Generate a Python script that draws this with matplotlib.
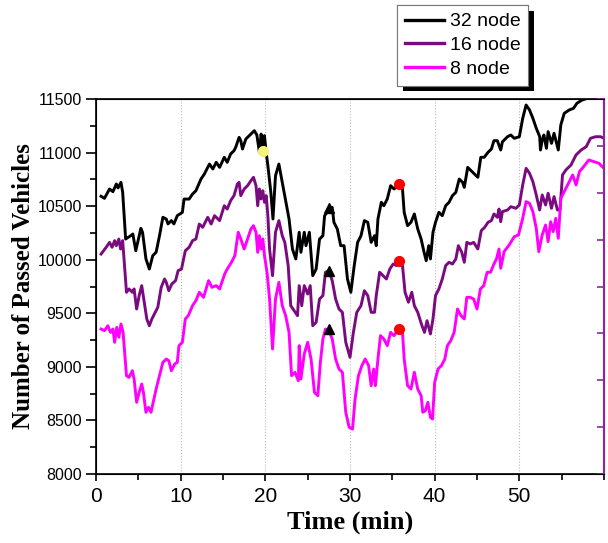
import numpy as np
import matplotlib.pyplot as plt
import matplotlib.patheffects as pe
from matplotlib.ticker import MultipleLocator

# Число прошедших машин во времени для разного числа узлов
t_32 = [0.6, 1.0, 1.6, 2.0, 2.4, 2.6, 2.95, 3.15, 3.5, 4.1, 4.35, 4.7, 5.3, 5.5, 5.9, 6.3, 6.7, 7.1,
        7.5, 7.9, 8.3, 8.5, 8.9, 9.2, 9.6, 10.2, 10.4, 11.0, 11.4, 11.8, 12.4, 12.8, 13.4, 13.8, 14.2,
        14.6, 15.15, 15.5, 15.9, 16.3, 16.5, 16.7, 16.9, 17.1, 17.3, 17.7, 18.3, 18.7, 19.0, 19.3,
        19.5, 19.7, 19.9, 20.1, 20.3, 20.65, 20.9, 21.2, 21.6, 22.0, 22.3, 22.8, 23.2, 23.6, 24.0,
        24.2, 24.6, 24.8, 25.2, 25.6, 26.0, 26.4, 26.8, 27.0, 27.3, 27.9, 28.1, 28.5, 28.9, 29.3,
        29.7, 30.1, 30.5, 30.9, 31.3, 31.7, 32.1, 32.5, 32.9, 33.1, 33.3, 33.7, 34.0, 34.4, 34.8,
        35.2, 35.8, 36.2, 36.4, 36.8, 37.2, 37.6, 38.0, 38.4, 38.75, 39.0, 39.3, 39.5, 39.8, 40.1,
        40.5, 40.9, 41.3, 41.7, 42.1, 42.5, 42.9, 43.3, 43.5, 43.9, 44.3, 44.7, 45.1, 45.45, 45.85,
        46.3, 46.7, 47.0, 47.4, 47.8, 48.0, 48.6, 49.0, 49.4, 50.0, 50.4, 50.8, 51.2, 51.6, 52.0,
        52.4, 52.5, 52.7, 52.9, 53.2, 53.4, 53.8, 54.1, 54.6, 54.9, 55.3, 55.9, 56.4, 56.8, 57.4,
        58.0, 58.8, 59.5, 60.0]
n_32 = [10592, 10573, 10660, 10635, 10707, 10670, 10722, 10630, 10193, 10224, 10240, 10084, 10293,
        10255, 10007, 9913, 10037, 10070, 10224, 10396, 10380, 10334, 10365, 10334, 10411, 10442,
        10566, 10566, 10613, 10644, 10753, 10800, 10893, 10847, 10909, 10862, 10956, 10909, 10987,
        11018, 11049, 11096, 11142, 11111, 11033, 11127, 11173, 11204, 11164, 11002, 11173, 11064,
        11158, 11002, 10878, 10629, 10380, 10784, 10893, 10722, 10598, 10380, 10100, 10007, 10256,
        10069, 10256, 10131, 10256, 9851, 9913, 10193, 10224, 10411, 10442, 10489, 10349, 10287,
        10131, 10131, 9820, 9696, 9945, 10162, 10224, 10365, 10349, 10162, 10224, 10131, 10380,
        10536, 10504, 10567, 10691, 10660, 10707, 10660, 10442, 10318, 10349, 10427, 10287, 10193,
        10069, 9991, 10131, 10007, 10256, 10349, 10442, 10411, 10504, 10536, 10598, 10629, 10753,
        10722, 10675, 10862, 10831, 10800, 10769, 10956, 10956, 11002, 11033, 11111, 11111, 11024,
        11100, 11148, 11164, 11133, 11148, 11320, 11444, 11398, 11320, 11227, 11150, 11024, 11118,
        11164, 11040, 11195, 11086, 11180, 11024, 11258, 11366, 11398, 11413, 11460, 11490, 11505,
        11530, 11550, 11570]

t_16 = [0.6, 1.2, 1.6, 1.9, 2.2, 2.4, 2.7, 2.9, 3.15, 3.6, 3.9, 4.3, 4.5, 4.8, 5.1, 5.4, 5.7, 6.0,
        6.3, 6.6, 7.0, 7.3, 7.7, 8.1, 8.3, 8.6, 8.95, 9.4, 9.7, 10.1, 10.55, 11.0, 11.4, 11.8, 12.2,
        12.6, 13.2, 13.6, 14.0, 14.6, 15.15, 15.5, 15.9, 16.3, 16.7, 16.9, 17.1, 17.5, 17.9, 18.3,
        18.6, 18.9, 19.1, 19.3, 19.5, 19.7, 19.9, 20.1, 20.3, 20.5, 20.85, 21.2, 21.6, 22.0, 22.3,
        22.7, 23.0, 23.4, 23.8, 24.0, 24.3, 24.6, 25.0, 25.3, 25.6, 26.0, 26.4, 26.8, 27.1, 27.5,
        27.9, 28.3, 28.7, 29.1, 29.5, 30.0, 30.4, 30.8, 31.3, 31.7, 32.1, 32.5, 32.9, 33.1, 33.5,
        33.9, 34.3, 34.7, 35.1, 35.5, 35.8, 36.2, 36.5, 36.9, 37.3, 37.6, 38.0, 38.5, 38.8, 39.1,
        39.5, 39.8, 40.1, 40.5, 40.9, 41.3, 41.7, 42.1, 42.5, 42.8, 43.2, 43.5, 43.8, 44.2, 44.6,
        45.1, 45.5, 45.9, 46.3, 46.7, 47.0, 47.4, 47.6, 47.8, 48.0, 48.6, 49.0, 49.6, 50.0, 50.4,
        50.8, 51.2, 51.6, 52.0, 52.4, 52.7, 53.1, 53.4, 53.8, 54.1, 54.5, 54.8, 55.1, 55.5, 56.1,
        56.7, 57.3, 57.9, 58.4, 59.0, 59.6, 60.0]
n_16 = [10053, 10116, 10162, 10116, 10178, 10131, 10193, 10100, 10178, 9696, 9727, 9696, 9727, 9540,
        9665, 9758, 9603, 9447, 9384, 9447, 9509, 9556, 9742, 9820, 9789, 9711, 9773, 9805, 9898,
        9913, 10084, 10116, 10178, 10193, 10333, 10302, 10396, 10333, 10411, 10365, 10504, 10473,
        10551, 10598, 10707, 10722, 10598, 10660, 10691, 10738, 10769, 10691, 10504, 10660, 10567,
        10644, 10536, 10598, 10411, 10100, 9851, 10256, 10365, 10224, 10162, 9945, 9571, 9524, 9478,
        9758, 9571, 9758, 9680, 9758, 9384, 9416, 9633, 9665, 9883, 9898, 9805, 9633, 9540, 9509,
        9229, 9089, 9322, 9509, 9571, 9711, 9665, 9509, 9509, 9665, 9883, 9851, 9820, 9913, 9960,
        9945, 9991, 9945, 9696, 9603, 9696, 9571, 9509, 9384, 9322, 9431, 9307, 9447, 9665, 9727,
        9820, 9945, 9976, 9960, 10007, 10131, 10069, 9976, 10162, 10147, 10162, 10100, 10271,
        10302, 10349, 10365, 10427, 10396, 10473, 10355, 10449, 10464, 10495, 10480, 10511, 10698,
        10853, 10807, 10729, 10604, 10464, 10604, 10511, 10620, 10480, 10589, 10464, 10464, 10791,
        10838, 10884, 10978, 11024, 11055, 11133, 11148, 11148, 11133]

t_8 = [0.6, 1.0, 1.4, 1.7, 2.0, 2.2, 2.45, 2.7, 2.95, 3.2, 3.6, 3.9, 4.3, 4.5, 4.8, 5.1, 5.4, 5.6,
       5.9, 6.2, 6.5, 6.8, 7.1, 7.5, 7.9, 8.3, 8.6, 8.9, 9.3, 9.6, 9.8, 10.2, 10.55, 10.9, 11.4,
       11.8, 12.2, 12.7, 13.3, 13.7, 14.2, 14.6, 15.2, 15.5, 16.0, 16.4, 16.8, 17.1, 17.5, 17.9,
       18.3, 18.6, 18.9, 19.1, 19.3, 19.5, 19.7, 19.9, 20.2, 20.5, 20.85, 21.2, 21.6, 22.0, 22.4,
       22.8, 23.1, 23.5, 23.9, 24.0, 24.2, 24.6, 25.0, 25.4, 25.8, 26.2, 26.5, 26.8, 27.1, 27.5,
       27.9, 28.3, 28.7, 29.1, 29.5, 29.9, 30.3, 30.6, 31.0, 31.4, 31.8, 32.2, 32.5, 32.8, 33.0,
       33.3, 33.6, 34.0, 34.4, 34.8, 35.2, 35.6, 35.8, 36.2, 36.4, 36.8, 37.2, 37.6, 38.0, 38.4,
       38.6, 38.9, 39.2, 39.5, 39.75, 40.0, 40.4, 40.8, 41.2, 41.5, 41.9, 42.3, 42.7, 43.1, 43.5,
       43.8, 44.2, 44.6, 45.0, 45.4, 45.8, 46.2, 46.6, 47.0, 47.3, 47.6, 47.8, 48.2, 48.8, 49.4,
       49.9, 50.4, 50.8, 51.2, 51.6, 52.0, 52.3, 52.7, 53.1, 53.4, 53.7, 54.0, 54.3, 54.6, 54.9,
       55.3, 55.9, 56.3, 56.7, 57.1, 57.6, 58.2, 58.8, 59.4, 60.0]
n_8 = [9353, 9338, 9384, 9322, 9353, 9229, 9369, 9276, 9400, 9322, 8918, 8902, 8964, 8887, 8669,
       8762, 8840, 8762, 8576, 8622, 8576, 8684, 8793, 8918, 9042, 9073, 9058, 8964, 9027, 9042,
       9198, 9229, 9447, 9478, 9571, 9618, 9696, 9649, 9805, 9742, 9758, 9727, 9867, 9913, 9976,
       10038, 10256, 10193, 10100, 10193, 10287, 10318, 10256, 10069, 10224, 10100, 10193, 10038,
       9883, 9633, 9167, 9633, 9789, 9571, 9478, 9322, 8918, 8949, 8871, 9198, 8887, 9120, 9229,
       9073, 8762, 8731, 9042, 9260, 9353, 9338, 9260, 9073, 8980, 8949, 8576, 8436, 8420, 8700,
       8918, 9011, 9073, 9011, 8824, 8980, 8824, 9073, 9291, 9260, 9198, 9322, 9291, 9338, 9353,
       9322, 9073, 8824, 8793, 8949, 8793, 8731, 8576, 8591, 8669, 8529, 8513, 8855, 8980, 9011,
       9073, 9198, 9244, 9322, 9540, 9478, 9447, 9649, 9649, 9633, 9540, 9727, 9758, 9883, 9883,
       9960, 10007, 10100, 9920, 10075, 10138, 10215, 10231, 10386, 10542, 10527, 10449, 10293,
       10075, 10231, 10324, 10169, 10355, 10262, 10386, 10200, 10573, 10635, 10729, 10791, 10698,
       10822, 10869, 10931, 10915, 10900, 10853]

labels = ['32 node', '16 node', '8 node']
colors = ['black', '#7b0a80', '#ff00ff']

# отмеченные точки на кривых
yellow_pt = (19.7, 11018)
red_t = [35.8, 35.8, 35.8]
red_n = [10707, 9991, 9353]
tri_t = [27.5, 27.5, 27.5]
tri_n = [10480, 9898, 9353]

fig = plt.figure(figsize=(6.08, 5.43), dpi=100)
ax = fig.add_axes([96 / 608, 69 / 543, 508 / 608, 375 / 543])

ax.plot(t_32, n_32, color=colors[0], lw=2.1, label=labels[0])
ax.plot(t_16, n_16, color=colors[1], lw=2.1, label=labels[1])
ax.plot(t_8, n_8, color=colors[2], lw=2.1, label=labels[2])

ax.plot(tri_t, tri_n, '^', color='black', ms=7, ls='none', zorder=5)
ax.plot(red_t, red_n, 'o', color='red', ms=7, ls='none', zorder=5)
ax.plot(*yellow_pt, 'o', color='#f5f27a', ms=7, zorder=5)

ax.set_xlim(0, 60)
ax.set_ylim(8000, 11500)
ax.xaxis.set_major_locator(MultipleLocator(10))
ax.xaxis.set_minor_locator(MultipleLocator(5))
ax.yaxis.set_major_locator(MultipleLocator(500))
ax.yaxis.set_minor_locator(MultipleLocator(250))
ax.set_xticks([0, 10, 20, 30, 40, 50])
ax.set_xticklabels(['0', '10', '20', '30', '40', '50'])
ax.xaxis.grid(True, which='major', ls=':', color='#bbbbbb', lw=0.8)

ax.tick_params(axis='y', which='major', direction='out', length=7, width=1.2, labelsize=11.5, pad=3)
ax.tick_params(axis='y', which='minor', direction='out', length=4, width=1.2)
ax.tick_params(axis='x', which='major', direction='out', length=5, width=1.2, labelsize=15, pad=4)
ax.tick_params(axis='x', which='minor', direction='out', length=4, width=1.2)
ax.tick_params(right=False, top=False, which='both')
for lbl in ax.get_xticklabels() + ax.get_yticklabels():
    lbl.set_family(['Liberation Sans', 'DejaVu Sans'])

for side in ['left', 'bottom', 'top']:
    ax.spines[side].set_linewidth(1.2)
ax.spines['right'].set_color('#8a2a9a')
ax.spines['right'].set_linewidth(1.5)

# правая ось без подписей
ax2 = ax.twinx()
ax2.set_ylim(0, 8)
ax2.yaxis.set_major_locator(MultipleLocator(1))
ax2.tick_params(axis='y', direction='in', length=5, width=1.2, colors='#8a2a9a',
                labelright=False)
ax2.spines['right'].set_color('#8a2a9a')
ax2.spines['right'].set_linewidth(1.5)

ax.set_xlabel('Time (min)', fontsize=19, fontweight='bold',
              family=['Liberation Serif', 'DejaVu Serif'], labelpad=4)
ax.set_ylabel('Number of Passed Vehicles', fontsize=18, fontweight='bold',
              family=['Liberation Serif', 'DejaVu Serif'], labelpad=2)

leg = ax.legend(loc='upper left', bbox_to_anchor=(397 / 608, 1 - 5 / 543),
                bbox_transform=fig.transFigure, borderaxespad=0, fancybox=False,
                edgecolor='#777777', framealpha=1, handlelength=2.0, handletextpad=0.3,
                labelspacing=0.32, borderpad=0.4,
                prop={'family': ['Liberation Sans', 'DejaVu Sans'], 'size': 14})
leg.get_frame().set_linewidth(0.8)
leg.get_frame().set_path_effects([pe.withSimplePatchShadow(offset=(4, -4), shadow_rgbFace='black',
                                                           alpha=1.0), pe.Normal()])
for line in leg.get_lines():
    line.set_linewidth(2.4)

fig.savefig('out.png', dpi=100)
